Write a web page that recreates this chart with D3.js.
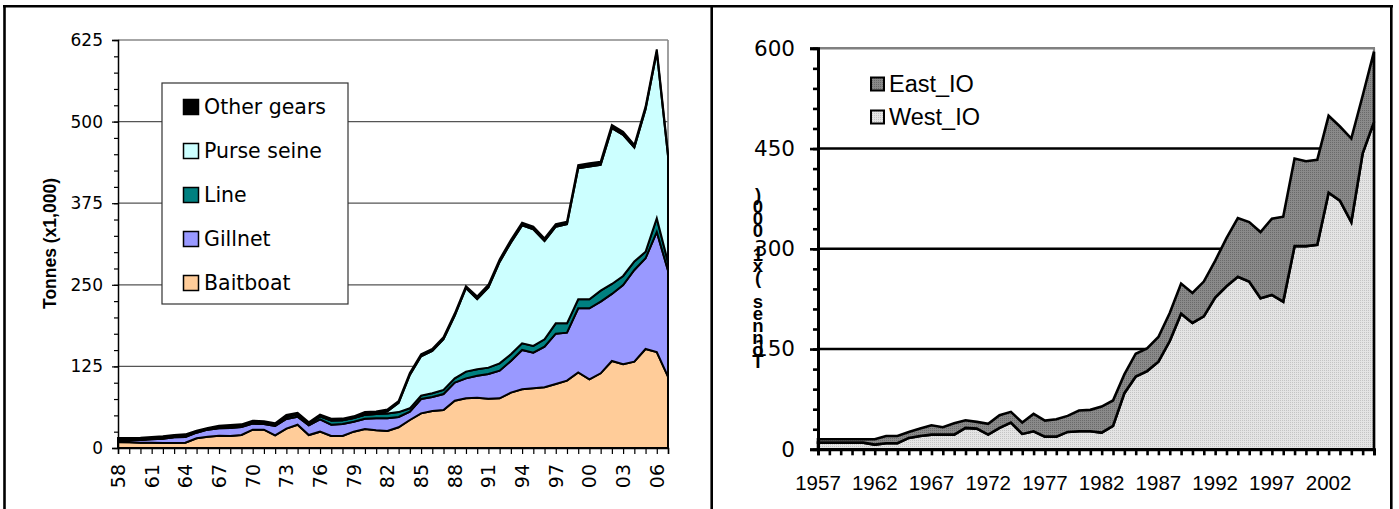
<!DOCTYPE html>
<html><head><meta charset="utf-8">
<script src="https://cdn.jsdelivr.net/npm/d3@7"></script>
<style>body{margin:0;background:#fff}svg{display:block}</style>
</head><body>
<svg id="chart" width="1399" height="509"></svg>
<script>
// Skipjack catches by gear, 1958-2007 (thousand tonnes)
const gearYears = d3.range(1958, 2008);
const baitboat = [9,8.7,8.2,8.2,7.7,7.7,8.2,14.8,17.4,18.9,18.4,19.9,28.1,28.1,19.4,29.6,35.7,19.9,25,18.4,18.4,25,29.1,27.1,26,31.7,42.9,53.1,56.7,58.2,72.5,76.1,77.1,75.6,76.1,84.8,89.9,91.4,93,98.1,103.2,115.9,105.2,114.4,133.3,128.2,132.3,151.7,147.1,109.3];
const gillnet = [2.5,3,4.1,5.1,6.6,8.6,8.7,8.7,10.7,11.2,12.2,12.3,9.2,8.7,14.3,14.9,12.3,14.8,18.9,17.4,18.4,15.3,15.8,18.4,19.5,15.8,12.8,22,21.4,24.5,27.6,30.6,33.7,37.8,42.4,48.5,60.3,54.7,62.3,77.1,73.5,98.1,108.8,109.8,102.7,121.5,140.4,138.9,183.9,162.7];
const line = [0.7,0.7,0.7,0.7,0.7,0.7,0.8,0.8,0.8,1,1,1,1.2,1.2,1.3,3.5,3.5,2.3,4.6,6.2,5.7,5.7,6.1,6.5,7.5,7.5,5.1,5.1,5.7,6.2,6.6,10.3,9.7,9.7,11.2,10.2,10.2,10.2,11.2,15.8,14.3,13.8,13.8,16.8,15.3,13.8,13,10,20.9,13];
const purseSeine = [0,0,0,0,0,0,0,0,0,0,0,0,0,0,0,0,0,0,0,0,0,0,0,0,3,14,51.2,60.3,64.9,77.7,96.3,128,107.5,122.9,155.3,171.1,180.6,178.7,150.5,148,151.7,200.7,203.3,192.6,238.5,216.1,174.5,218.3,254.8,162.4];
const otherGears = [3,3,2.8,2.9,2.9,2.9,3.2,2.3,1.7,3,3.5,3,3.4,2.9,2.8,2.5,2.5,2.5,2.6,2.9,2.5,2.5,4,4,3,3,3,3,3,3,3,3,4,4,4,4,4,4,4,4,4,5,5,5,5,5,4,4,4,4];
const gearNames = ["Baitboat", "Gillnet", "Line", "Purse seine", "Other gears"];
const gearColors = ["#FFCC99", "#9999FF", "#008080", "#CCFFFF", "#000000"];
const leftYTicks = [0, 125, 250, 375, 500, 625];
const leftXLabelYears = d3.range(1958, 2008, 3);

// Catches by region, 1957-2006 (thousand tonnes)
const regionYears = d3.range(1957, 2007);
const westIO = [10,10,10,10,10,7,9,9,17,20,22,22,22,32,31,22,32,40,23,27,19,19,26,27,27,25,35,84,109,117,131,162,203,189,199,227,244,258,251,226,231,221,304,304,306,384,372,340,443,490];
const eastIO = [5,5,5,5,5,8,11,11,9,11,14,11,17,11.5,10,16,19,16,17,26,24,26,24,31,32,39,38,28,34,34,37,42,45,45,52,55,72,88,89,99,114,127,131,127,127,115,111,125,86,105];
const regionNames = ["West_IO", "East_IO"];
const rightYTicks = [0, 150, 300, 450, 600];
const rightXLabelYears = d3.range(1957, 2006, 5);
const rightYTitle = "Tonnes (x1,000)";

const svg = d3.select("#chart");

// dotted fills for the regional areas
const defs = svg.append("defs");
function dotPattern(id, base, dot) {
  const p = defs.append("pattern").attr("id", id).attr("patternUnits", "userSpaceOnUse")
    .attr("width", 2).attr("height", 2);
  p.append("rect").attr("width", 2).attr("height", 2).attr("fill", base);
  p.append("rect").attr("width", 1).attr("height", 1).attr("fill", dot);
}
dotPattern("dotsLight", "#E4E4E4", "#C4C4C4");
dotPattern("dotsDark", "#8A8A8A", "#6A6A6A");
const regionFills = ["url(#dotsLight)", "url(#dotsDark)"];

// ---- outer frame ----
const frame = svg.append("g").attr("stroke", "#000").attr("stroke-width", 2.6);
frame.append("line").attr("x1", 3).attr("x2", 1393).attr("y1", 6.3).attr("y2", 6.3);
frame.append("line").attr("x1", 4.5).attr("x2", 4.5).attr("y1", 5).attr("y2", 509);
frame.append("line").attr("x1", 711.7).attr("x2", 711.7).attr("y1", 5).attr("y2", 509);
frame.append("line").attr("x1", 1391.3).attr("x2", 1391.3).attr("y1", 5).attr("y2", 509);

// ================= LEFT: catches by gear =================
const x1 = d3.scaleLinear().domain([1958, 2007]).range([118, 668]);
const y1 = d3.scaleLinear().domain([0, 625]).range([448, 40]);
const L = svg.append("g");

// gridlines
L.append("g").selectAll("line").data(leftYTicks.filter(v => v > 0 && v < 625)).join("line")
  .attr("x1", x1.range()[0]).attr("x2", x1.range()[1])
  .attr("y1", d => y1(d)).attr("y2", d => y1(d))
  .attr("stroke", "#555").attr("stroke-width", 1.2);
L.append("line").attr("x1", 118).attr("x2", 668).attr("y1", y1(625)).attr("y2", y1(625))
  .attr("stroke", "#888").attr("stroke-width", 1.6);
L.append("line").attr("x1", 668).attr("x2", 668).attr("y1", y1(625)).attr("y2", y1(0))
  .attr("stroke", "#888").attr("stroke-width", 1.6);

// stacked areas
const gearSeries = [baitboat, gillnet, line, purseSeine, otherGears];
const gearRows = gearYears.map((yr, i) => {
  const r = { year: yr };
  gearNames.forEach((k, j) => r[k] = gearSeries[j][i]);
  return r;
});
const gearStack = d3.stack().keys(gearNames)(gearRows);
const gearArea = d3.area()
  .x(d => x1(d.data.year)).y0(d => y1(d[0])).y1(d => y1(d[1]));
L.append("g").selectAll("path").data(gearStack).join("path")
  .attr("d", gearArea)
  .attr("fill", (d, i) => gearColors[i])
  .attr("stroke", "#000").attr("stroke-width", 2).attr("stroke-linejoin", "miter");

// y axis
const yMinor1 = d3.axisLeft(y1).tickValues(d3.range(0, 626, 25)).tickSize(4).tickFormat("");
L.append("g").attr("transform", "translate(118,0)").call(yMinor1)
  .call(g => g.select(".domain").remove())
  .selectAll("line").attr("stroke", "#000").attr("stroke-width", 1.2);
const yMajor1 = d3.axisLeft(y1).tickValues(leftYTicks).tickSize(6).tickPadding(9);
L.append("g").attr("transform", "translate(118,0)").call(yMajor1)
  .call(g => g.select(".domain").attr("stroke", "#000").attr("stroke-width", 1.5))
  .call(g => g.selectAll("line").attr("stroke", "#000").attr("stroke-width", 1.2))
  .call(g => g.selectAll("text").attr("font-family", "DejaVu Sans").attr("font-size", 17).attr("fill", "#000"));

// x axis
const xAxis1 = d3.axisBottom(x1).tickValues(gearYears).tickSize(6).tickFormat("");
L.append("g").attr("transform", `translate(0,${y1(0)})`).call(xAxis1)
  .call(g => g.select(".domain").attr("stroke", "#000").attr("stroke-width", 1.5))
  .call(g => g.selectAll("line").attr("stroke", "#000").attr("stroke-width", 1.2));
L.append("g").selectAll("text").data(leftXLabelYears).join("text")
  .attr("transform", d => `translate(${x1(d)},464) rotate(-90)`)
  .attr("text-anchor", "end").attr("dy", "0.36em")
  .attr("font-family", "DejaVu Sans").attr("font-size", 19)
  .text(d => String(d % 100).padStart(2, "0"));

// axis title
L.append("text").attr("transform", "translate(50,243.5) rotate(-90)")
  .attr("text-anchor", "middle").attr("dy", "0.36em")
  .attr("font-family", "Liberation Sans").attr("font-weight", "bold").attr("font-size", 17.5)
  .text("Tonnes (x1,000)");

// legend
const lg1 = L.append("g");
lg1.append("rect").attr("x", 162).attr("y", 83).attr("width", 186).attr("height", 221)
  .attr("fill", "#fff").attr("stroke", "#333").attr("stroke-width", 1.2);
const legendOrder1 = gearNames.map((n, i) => ({ name: n, color: gearColors[i] })).reverse();
const lgRow = lg1.selectAll("g").data(legendOrder1).join("g")
  .attr("transform", (d, i) => `translate(0,${107 + i * 44})`);
lgRow.append("rect").attr("x", 183.5).attr("y", -7.5).attr("width", 15).attr("height", 15)
  .attr("fill", d => d.color).attr("stroke", "#000").attr("stroke-width", 1.5);
lgRow.append("text").attr("x", 204).attr("dy", "0.36em")
  .attr("font-family", "DejaVu Sans").attr("font-size", 20.5).text(d => d.name);

// ================= RIGHT: catches by region =================
const x2 = d3.scaleLinear().domain([1957, 2006]).range([818, 1374]);
const y2 = d3.scaleLinear().domain([0, 600]).range([449.3, 48.3]);
const R = svg.append("g");

R.append("g").selectAll("line").data(rightYTicks.filter(v => v > 0 && v < 600)).join("line")
  .attr("x1", 818).attr("x2", 1374).attr("y1", d => y2(d)).attr("y2", d => y2(d))
  .attr("stroke", "#000").attr("stroke-width", 2.6);
R.append("line").attr("x1", 818).attr("x2", 1375).attr("y1", y2(600)).attr("y2", y2(600))
  .attr("stroke", "#808080").attr("stroke-width", 2.6);
R.append("line").attr("x1", 1374).attr("x2", 1374).attr("y1", y2(600)).attr("y2", y2(0))
  .attr("stroke", "#808080").attr("stroke-width", 2.2);

const regionSeries = [westIO, eastIO];
const regionRows = regionYears.map((yr, i) => {
  const r = { year: yr };
  regionNames.forEach((k, j) => r[k] = regionSeries[j][i]);
  return r;
});
const regionStack = d3.stack().keys(regionNames)(regionRows);
const regionArea = d3.area()
  .x(d => x2(d.data.year)).y0(d => y2(d[0])).y1(d => y2(d[1]));
R.append("g").selectAll("path").data(regionStack).join("path")
  .attr("d", regionArea)
  .attr("fill", (d, i) => regionFills[i])
  .attr("stroke", "#000").attr("stroke-width", 2.6).attr("stroke-linejoin", "miter");

// y axis
const yMinor2 = d3.axisLeft(y2).tickValues(d3.range(0, 601, 30)).tickSize(5).tickFormat("");
R.append("g").attr("transform", "translate(818,0)").call(yMinor2)
  .call(g => g.select(".domain").remove())
  .selectAll("line").attr("stroke", "#000").attr("stroke-width", 2.6);
const yMajor2 = d3.axisLeft(y2).tickValues(rightYTicks).tickSize(8).tickPadding(15);
R.append("g").attr("transform", "translate(818,0)").call(yMajor2)
  .call(g => g.select(".domain").attr("stroke", "#000").attr("stroke-width", 3))
  .call(g => g.selectAll("line").attr("stroke", "#000").attr("stroke-width", 2.6))
  .call(g => g.selectAll("text").attr("font-family", "DejaVu Sans").attr("font-size", 21.5).attr("fill", "#000"));

// x axis
const xAxis2 = d3.axisBottom(x2).tickValues(regionYears).tickSize(6).tickFormat("");
R.append("g").attr("transform", `translate(0,${y2(0)})`).call(xAxis2)
  .call(g => g.select(".domain").attr("stroke", "#000").attr("stroke-width", 3))
  .call(g => g.selectAll("line").attr("stroke", "#000").attr("stroke-width", 2.6));
R.append("g").selectAll("text").data(rightXLabelYears).join("text")
  .attr("x", d => x2(d)).attr("y", 490).attr("text-anchor", "middle")
  .attr("font-family", "Liberation Sans").attr("font-size", 20.5).text(d => d);

// stacked-letter axis title (upright glyphs in a vertical run, read bottom-up)
R.append("text")
  .attr("x", 758).attr("y", 184)
  .attr("font-family", "Liberation Sans").attr("font-weight", "bold").attr("font-size", 18.5)
  .style("writing-mode", "vertical-rl").style("text-orientation", "upright")
  .style("letter-spacing", "-9.1px")
  .text(Array.from(rightYTitle).reverse().join(""));

// legend
const legendOrder2 = regionNames.map((n, i) => ({ name: n, fill: regionFills[i] })).reverse();
const lg2 = R.append("g").selectAll("g").data(legendOrder2).join("g")
  .attr("transform", (d, i) => `translate(0,${84 + i * 33})`);
lg2.append("rect").attr("x", 871).attr("y", -6.5).attr("width", 13).attr("height", 13)
  .attr("fill", d => d.fill).attr("stroke", "#000").attr("stroke-width", 2);
lg2.append("text").attr("x", 889).attr("dy", "0.36em")
  .attr("font-family", "Liberation Sans").attr("font-size", 23.5).text(d => d.name);
</script>
</body></html>
